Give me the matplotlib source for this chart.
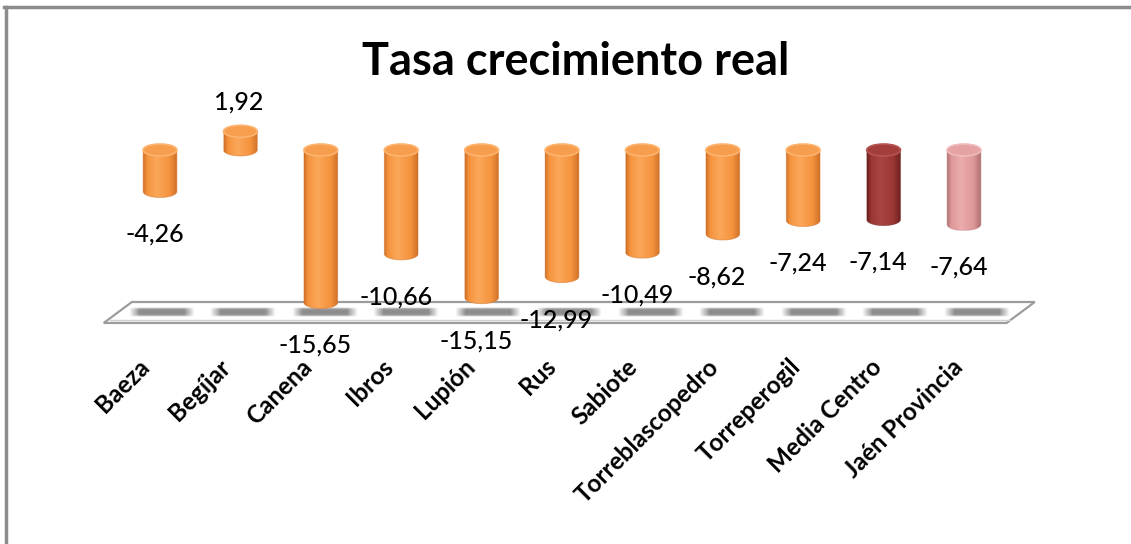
import numpy as np
import matplotlib
matplotlib.use('Agg')
import matplotlib.pyplot as plt
from matplotlib.colors import LinearSegmentedColormap
from matplotlib.patches import Ellipse, Polygon
from matplotlib.lines import Line2D

plt.rcParams['font.family'] = ['Lato', 'DejaVu Sans']

# Data
categories = ['Baeza', 'Begíjar', 'Canena', 'Ibros', 'Lupión', 'Rus', 'Sabiote',
              'Torreblascopedro', 'Torreperogil', 'Media Centro', 'Jaén Provincia']
values = [-4.26, 1.92, -15.65, -10.66, -15.15, -12.99, -10.49, -8.62, -7.24, -7.14, -7.64]
title = 'Tasa crecimiento real'

# Style: (dark, mid, light, top, rim) for each bar
orange = ('#CF7028', '#F5933D', '#FBA75A', '#F79E4E', '#FDB46F')
darkred = ('#6A201F', '#9A3634', '#A94644', '#A33E3C', '#B65553')
pink = ('#B07071', '#DE9798', '#EBACAD', '#E5A2A3', '#F0BBBC')
bar_styles = [orange] * 9 + [darkred, pink]

W, H = 1131, 544
fig = plt.figure(figsize=(W / 100, H / 100), dpi=100)
ax = fig.add_axes([0, 0, 1, 1])
ax.axis('off')

# map pixels -> data (category spacing ~80.4 px, ~9.75 px per unit)
x0px, dxpx, y0px, dypx = 160, 80.4, 150, 9.75
ax.set_xlim(-x0px / dxpx, (W - x0px) / dxpx)
ax.set_ylim(-(H - y0px) / dypx, y0px / dypx)

bw = 0.42   # bar width (data)
eh = 1.23   # ellipse height (data)
n = len(categories)

# floor slab
ytop, ybot = -15.59, -17.74
floor = Polygon([(-0.35, ytop), (n - 1 + 0.88, ytop), (n - 1 + 0.53, ybot), (-0.70, ybot)],
                closed=True, facecolor='white', edgecolor='#9C9C9C', lw=1.6, zorder=1)
ax.add_patch(floor)
ax.plot([-0.62, n - 1 + 0.57], [ybot + 0.3, ybot + 0.3], color='#D0D0D0', lw=1, zorder=1)

# gray dashes on the floor
nx, ny = 120, 16
xs = np.linspace(0, 1, nx)
ys = np.linspace(-1, 1, ny)
ax_alpha = np.clip(np.minimum(xs, 1 - xs) / 0.16, 0, 1)
ay_alpha = np.clip(1 - np.abs(ys) ** 4, 0, 1)
rgba = np.zeros((ny, nx, 4))
rgba[..., :3] = 0.55
rgba[..., 3] = np.outer(ay_alpha, ax_alpha)
for i in range(n):
    c = i + 0.02 + 0.014 * i
    ax.imshow(rgba, extent=[c - 0.41, c + 0.41, -17.15, -16.2], aspect='auto',
              interpolation='bilinear', zorder=2)

# cylinders
grad = np.linspace(0, 1, 256).reshape(1, -1)
for i, (v, st) in enumerate(zip(values, bar_styles)):
    dark, mid, light, topc, rim = st
    cmap = LinearSegmentedColormap.from_list(
        'cyl', [(0, dark), (0.12, mid), (0.4, light), (0.78, mid), (1, dark)])
    lo, hi = min(0, v), max(0, v)
    t = np.linspace(np.pi, 2 * np.pi, 40)
    pts = [(i - bw / 2, hi), (i - bw / 2, lo)]
    pts += list(zip(i + bw / 2 * np.cos(t), lo + eh / 2 * np.sin(t)))
    pts += [(i + bw / 2, lo), (i + bw / 2, hi)]
    body = Polygon(pts, closed=True, facecolor='none', edgecolor='none', zorder=3)
    ax.add_patch(body)
    im = ax.imshow(grad, cmap=cmap, extent=[i - bw / 2, i + bw / 2, lo - eh / 2, hi],
                   aspect='auto', zorder=3)
    im.set_clip_path(body)
    ax.add_patch(Polygon(pts, closed=True, facecolor='none', edgecolor=dark,
                         lw=0.6, alpha=0.5, zorder=3.5))
    ax.add_patch(Ellipse((i, hi), bw, eh, facecolor=topc, edgecolor=rim,
                         lw=1.2, zorder=4))

# value labels
for i, v in enumerate(values):
    txt = f'{v:.2f}'.replace('.', ',')
    if v < 0:
        ax.text(i - 0.07, v - 4.4, txt, ha='center', va='center', fontsize=18,
                fontweight='medium', zorder=6)
    else:
        ax.text(i - 0.02, v + 3.0, txt, ha='center', va='center', fontsize=18,
                fontweight='medium', zorder=6)

# category labels
for i, name in enumerate(categories):
    ax.text(i - 0.08 + 0.012 * i, -21.0, name, rotation=45, ha='right', va='top',
            fontsize=17.5, fontweight='bold', zorder=6)

fig.text(576 / W, 1 - 62 / H, title, ha='center', va='center',
         fontsize=32.5, fontweight='bold')

# outer frame (top and left edges visible)
fig.add_artist(Line2D([4 / W, 1], [1 - 7 / H, 1 - 7 / H], color='#8C8C8C', lw=2.5,
                      transform=fig.transFigure))
fig.add_artist(Line2D([5.5 / W, 5.5 / W], [0, 1 - 7 / H], color='#8C8C8C', lw=2.5,
                      transform=fig.transFigure))

fig.savefig('out.png', dpi=100)
